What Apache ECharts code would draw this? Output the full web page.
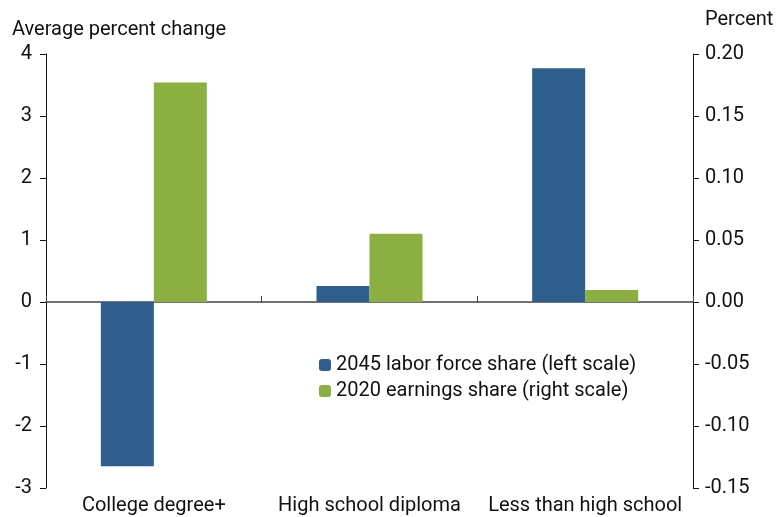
<!DOCTYPE html>
<html><head><meta charset="utf-8">
<script src="https://cdn.jsdelivr.net/npm/echarts@6/dist/echarts.min.js"></script>
<style>html,body{margin:0;padding:0;background:#fff}#c{width:778px;height:517px}</style>
</head><body><div id="c"></div>
<script>
const categories = ['College degree+', 'High school diploma', 'Less than high school'];
const laborForceShare2045 = [-2.65, 0.26, 3.77];
const earningsShare2020 = [0.177, 0.055, 0.0097];
const leftTicks = [-3, -2, -1, 0, 1, 2, 3, 4];
const rightTicks = ['-0.15', '-0.10', '-0.05', '0.00', '0.05', '0.10', '0.15', '0.20'];

const FONT = 'Roboto';
const FS = 20;
const chart = echarts.init(document.getElementById('c'));
chart.setOption({
  animation: false,
  textStyle: { fontFamily: FONT },
  grid: { left: 46, right: 85, top: 54, bottom: 29, containLabel: false },
  legend: {
    orient: 'vertical', left: 314, top: 350, itemWidth: 12, itemHeight: 12, itemGap: 6,
    textStyle: { fontSize: 20, color: '#111', fontFamily: FONT },
    data: ['2045 labor force share (left scale)', '2020 earnings share (right scale)']
  },
  xAxis: {
    type: 'category', data: categories,
    axisLine: { onZero: true, lineStyle: { color: '#444', width: 1.5 } },
    axisTick: { show: true, inside: true, length: 6, lineStyle: { color: '#444' } },
    axisLabel: { show: false }
  },
  yAxis: [
    {
      type: 'value', min: -3, max: 4, interval: 1, position: 'left',
      name: 'Average percent change', nameLocation: 'end', nameGap: 14,
      nameTextStyle: { align: 'left', padding: [0, 0, 0, -34], fontSize: FS, color: '#111' },
      axisLine: { show: true, lineStyle: { color: '#111' } },
      axisTick: { show: true, length: 6, lineStyle: { color: '#111' } },
      axisLabel: { fontSize: FS, color: '#111', margin: 14, formatter: v => String(v) },
      splitLine: { show: false }
    },
    {
      type: 'value', min: -0.15, max: 0.2, interval: 0.05, position: 'right',
      name: 'Percent', nameLocation: 'end', nameGap: 24,
      nameTextStyle: { align: 'left', padding: [0, 0, 0, 12], fontSize: FS, color: '#111' },
      axisLine: { show: true, lineStyle: { color: '#111' } },
      axisTick: { show: true, length: 6, lineStyle: { color: '#111' } },
      axisLabel: { fontSize: FS, color: '#111', margin: 12, formatter: v => v.toFixed(2) },
      splitLine: { show: false }
    }
  ],
  series: [
    {
      name: '2045 labor force share (left scale)', type: 'bar', yAxisIndex: 0,
      data: laborForceShare2045, barWidth: 53, barGap: '0%',
      itemStyle: { color: '#2E5E8C' }
    },
    {
      name: '2020 earnings share (right scale)', type: 'bar', yAxisIndex: 1,
      data: earningsShare2020, barWidth: 53, barGap: '0%',
      itemStyle: { color: '#8BAF41' }
    }
  ],
  graphic: categories.map((c, i) => ({
    type: 'text', id: 'cat' + i,
    style: { text: c, fontSize: FS, fontFamily: FONT, fill: '#111', align: 'center', verticalAlign: 'middle' },
    x: 0, y: 506
  }))
});
function placeLabels() {
  chart.setOption({
    graphic: categories.map((c, i) => ({
      id: 'cat' + i, x: chart.convertToPixel({ xAxisIndex: 0 }, i), y: 506
    }))
  });
}
placeLabels();
</script></body></html>
